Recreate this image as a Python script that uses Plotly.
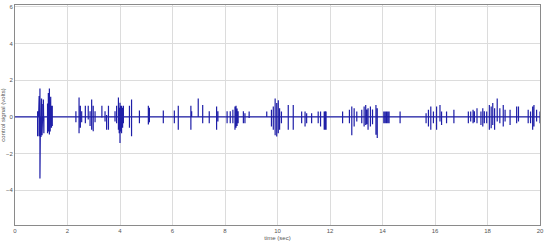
import plotly.graph_objects as go

C_LINE = '#1f1fa8'
C_GRID = '#dcdcdc'
C_AXIS = '#8a8a8a'
C_TEXT = '#555555'

# burst instants (sec) and the high / low swing of the control signal there (volts)
spike_t = [
    0.86, 0.90, 0.92, 0.95, 0.97, 0.99, 1.01, 1.03, 1.05, 1.08, 1.10,
    1.24, 1.27, 1.31, 1.34, 1.36, 1.39, 1.42,
    2.32, 2.44, 2.49, 2.54, 2.68, 2.79, 2.86, 2.92, 2.98, 3.05,
    3.31, 3.43, 3.49, 3.56, 3.81, 3.87, 3.94, 3.97, 4.00, 4.03, 4.06, 4.10, 4.13,
    4.36, 4.44, 4.74, 5.08, 5.10, 5.12, 5.65, 6.07, 6.22, 6.70, 6.73, 6.98,
    7.15, 7.40, 7.68, 7.73, 8.08, 8.20, 8.30, 8.38, 8.42, 8.46, 8.50, 8.70, 8.76, 8.92,
    9.59, 9.77, 9.84, 9.91, 9.97, 10.03, 10.08, 10.15, 10.41, 10.60, 10.92,
    11.05, 11.11, 11.30, 11.55, 11.64, 11.78, 11.82, 11.85,
    12.48, 12.74, 12.83, 12.92, 13.02, 13.21, 13.30, 13.36, 13.40, 13.45, 13.54, 13.62,
    13.75, 13.80, 14.05, 14.10, 14.15, 14.20, 14.25, 14.67,
    15.66, 15.75, 15.84, 15.94, 16.06, 16.19, 16.25, 16.44, 16.72,
    17.27, 17.36, 17.45, 17.50, 17.60, 17.75, 17.82, 17.88, 17.97,
    18.07, 18.14, 18.20, 18.27, 18.37, 18.47, 18.60, 18.67, 18.86,
    19.11, 19.18, 19.55, 19.64, 19.72, 19.77, 19.87, 20.00,
]
spike_hi = [
    0.30, 0.80, 1.14, 1.54, 1.00, 0.90, 1.00, 0.70, 0.50, 0.95, 0.90,
    0.73, 1.30, 1.54, 0.90, 1.10, 0.60, 0.60,
    0.30, 1.05, 0.60, 0.30, 0.60, 0.60, 0.30, 0.95, 0.60, 0.30,
    0.60, 0.30, 0.10, 0.60, 0.30, 0.60, 1.05, 0.50, 0.77, 0.60, 0.60, 0.50, 0.60,
    0.60, 0.95, 0.35, 0.60, 0.30, 0.50, 0.35, 0.35, 0.60, 0.60, 0.30, 1.00,
    0.65, 0.30, 0.56, 0.30, 0.30, 0.30, 0.38, 0.56, 0.60, 0.45, 0.30, 0.30, 0.20, 0.29,
    0.29, 0.38, 0.56, 1.00, 0.75, 0.90, 0.47, 0.29, 0.65, 0.65, 0.29,
    0.29, 0.20, 0.20, 0.29, 0.29, 0.29, 0.30, 0.29,
    0.29, 0.38, 0.56, 0.47, 0.29, 0.38, 0.56, 0.65, 0.40, 0.47, 0.56, 0.40,
    0.65, 0.47, 0.29, 0.29, 0.29, 0.29, 0.29, 0.29,
    0.20, 0.38, 0.56, 0.29, 0.56, 0.65, 0.29, 0.29, 0.38,
    0.29, 0.29, 0.38, 0.30, 0.47, 0.29, 0.47, 0.30, 0.29,
    0.65, 0.56, 0.75, 0.47, 1.00, 0.47, 0.65, 0.38, 0.38,
    0.56, 0.56, 0.38, 0.29, 0.56, 0.65, 0.38, 0.29,
]
spike_lo = [
    -1.06, -1.00, -1.06, -3.36, -1.00, -1.10, -0.90, -1.00, -0.80, -0.50, -0.90,
    -0.90, -0.80, -0.97, -0.80, -0.70, -0.60, -0.50,
    -0.30, -0.90, -0.60, -0.30, -0.35, -0.15, -0.50, -0.70, -0.78, -0.30,
    -0.05, -0.25, -0.70, -0.70, -0.25, -0.35, -0.70, -0.90, -1.43, -0.80, -0.90, -0.60, -0.35,
    -0.60, -1.06, -0.35, -0.42, -0.40, -0.30, -0.35, -0.35, -0.70, -0.70, 0.00, 0.00,
    -0.35, -0.35, -0.71, -0.25, -0.35, -0.35, -0.35, -0.71, -0.60, -0.50, -0.35, -0.35, -0.35, -0.07,
    0.00, -0.53, -0.71, -1.00, -1.07, -0.90, -0.71, -0.35, -0.71, -0.71, -0.35,
    -0.53, -0.35, -0.35, -0.35, -0.53, -0.71, -0.70, -0.71,
    -0.35, -0.35, -1.00, -0.53, -0.25, -0.35, -0.53, -0.44, -0.40, -0.71, -0.53, -0.40,
    -0.98, -1.16, -0.35, -0.35, -0.35, -0.35, -0.35, -0.35,
    -0.35, -0.53, -0.71, -0.35, -0.71, -0.25, -0.44, -0.35, -0.35,
    -0.35, -0.25, -0.35, -0.30, -0.35, -0.44, -0.53, -0.35, -0.35,
    -0.71, -0.62, -0.44, -0.71, -0.25, -0.35, -0.53, -0.25, -0.44,
    -0.35, -0.25, -0.35, -0.35, -0.71, -0.53, -0.25, -0.35,
]

x_ticks = [0, 2, 4, 6, 8, 10, 12, 14, 16, 18, 20]
y_ticks = [-4, -2, 0, 2, 4, 6]

# signal sits at zero and swings to hi / lo at each burst instant
xs, ys = [0.0], [0.0]
for t, hi, lo in zip(spike_t, spike_hi, spike_lo):
    xs += [t, t, t, t]
    ys += [0.0, hi, lo, 0.0]
xs.append(20.0)
ys.append(0.0)

fig = go.Figure(go.Scatter(
    x=xs, y=ys, mode='lines',
    line=dict(color=C_LINE, width=1.2),
    hoverinfo='skip', showlegend=False,
))

_ax = dict(
    showgrid=True, gridcolor=C_GRID, gridwidth=1,
    showline=True, linecolor=C_AXIS, linewidth=1, mirror=True,
    zeroline=False, ticks='', automargin=False,
    tickfont=dict(size=6, color=C_TEXT),
)

fig.update_layout(
    width=550, height=246,
    paper_bgcolor='white', plot_bgcolor='white',
    font=dict(family='Liberation Sans, Arial, sans-serif', color=C_TEXT, size=6),
    margin=dict(l=15, r=10, t=5, b=21),
    xaxis=dict(**_ax, range=[0, 20], tickvals=x_ticks,
               title=dict(text='time (sec)', font=dict(size=6), standoff=2)),
    yaxis=dict(**_ax, range=[-5.9, 6.1], tickvals=y_ticks,
               title=dict(text='control signal (volts)', font=dict(size=6), standoff=2)),
)

fig.write_html(
    'out.html',
    config={'displayModeBar': False},
    post_script="document.body.style.margin='0';document.body.style.overflow='hidden';",
)
